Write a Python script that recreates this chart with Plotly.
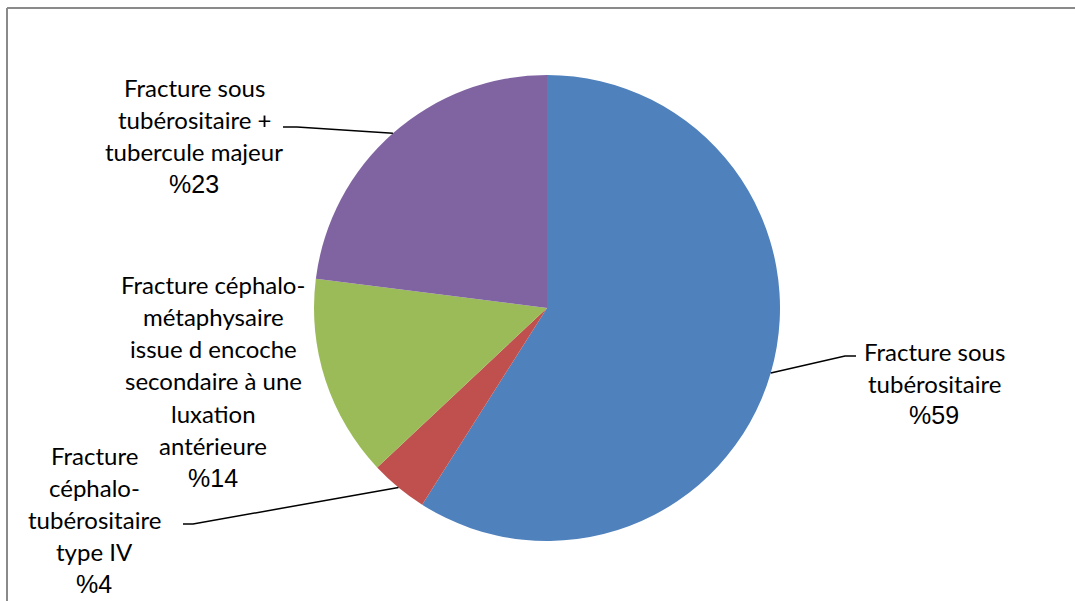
import math
import plotly.graph_objects as go

W, H = 1075, 601

# Data
categories = [
    "Fracture sous tubérositaire",
    "Fracture céphalo-tubérositaire type IV",
    "Fracture céphalo-métaphysaire issue d encoche secondaire à une luxation antérieure",
    "Fracture sous tubérositaire + tubercule majeur",
]
values = [59, 4, 14, 23]
label_lines = [
    ["Fracture sous", "tubérositaire"],
    ["Fracture", "céphalo-", "tubérositaire", "type IV"],
    ["Fracture céphalo-", "métaphysaire", "issue d encoche", "secondaire à une", "luxation", "antérieure"],
    ["Fracture sous", "tubérositaire +", "tubercule majeur"],
]
colors = ["#4F81BD", "#C0504D", "#9BBB59", "#8064A2"]

# Layout (pixels)
CX, CY, R = 547, 308, 233
LINE_PITCH = 32.3
TEXT_FONT = "Lato"
TEXT_SIZE = 24
PCT_FONT = "Liberation Sans, Arial"
PCT_SIZE = 25
label_pos = [(934, 359), (94, 463), (213, 292), (194, 95)]  # centre x, first baseline
leader_elbows = [
    [(845, 356), (856, 356)],
    [(193, 524), (183, 524)],
    None,
    [(297, 127), (283, 127)],
]


def px(x):
    return x / W


def py(y):
    return 1 - y / H


fig = go.Figure(
    go.Pie(
        labels=categories,
        values=values,
        sort=False,
        direction="clockwise",
        rotation=0,
        marker=dict(colors=colors, line=dict(width=0)),
        textinfo="none",
        hoverinfo="label+percent",
        showlegend=False,
        domain=dict(
            x=[px(CX - R), px(CX + R)],
            y=[py(CY + R), py(CY - R)],
        ),
    )
)

shapes = []
annotations = []

# Frame lines (top and left)
shapes.append(dict(type="line", xref="paper", yref="paper",
                   x0=px(7), y0=py(8), x1=1, y1=py(8),
                   line=dict(color="#8a8a8a", width=2)))
shapes.append(dict(type="line", xref="paper", yref="paper",
                   x0=px(7), y0=py(8), x1=px(7), y1=0,
                   line=dict(color="#8a8a8a", width=2)))

total = sum(values)
cum = 0
for i, v in enumerate(values):
    mid = (cum + v / 2) / total
    cum += v
    theta = 2 * math.pi * mid
    ex = CX + R * math.sin(theta)
    ey = CY - R * math.cos(theta)

    elbow = leader_elbows[i]
    if elbow:
        pts = [(ex, ey)] + elbow
        path = "M " + " L ".join(f"{px(x):.5f},{py(y):.5f}" for x, y in pts)
        shapes.append(dict(type="path", xref="paper", yref="paper", path=path,
                           line=dict(color="black", width=1.5)))

    lx, ly = label_pos[i]
    lines = label_lines[i] + [f"%{v}"]
    for j, text in enumerate(lines):
        is_pct = j == len(lines) - 1
        size = PCT_SIZE if is_pct else TEXT_SIZE
        base = ly + j * LINE_PITCH
        annotations.append(dict(
            x=px(lx), y=py(base - 0.33 * size), xref="paper", yref="paper",
            text=text, showarrow=False, xanchor="center", yanchor="middle",
            font=dict(family=PCT_FONT if is_pct else TEXT_FONT, size=size, color="black"),
        ))

fig.update_layout(
    width=W, height=H,
    margin=dict(l=0, r=0, t=0, b=0),
    paper_bgcolor="white",
    plot_bgcolor="white",
    shapes=shapes,
    annotations=annotations,
)

fig.write_html("out.html")
